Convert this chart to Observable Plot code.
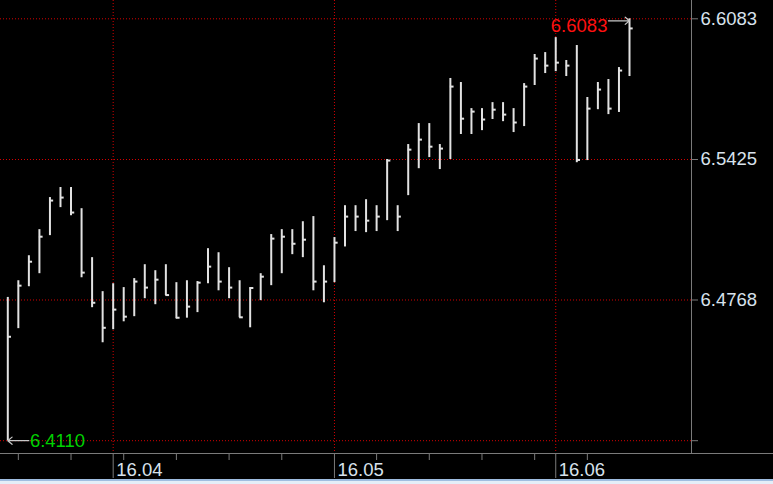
<!DOCTYPE html>
<html><head><meta charset="utf-8">
<script src="https://cdn.jsdelivr.net/npm/d3@7"></script>
<script src="https://cdn.jsdelivr.net/npm/@observablehq/plot@0.6"></script>
<style>
html,body{margin:0;padding:0;background:#000;overflow:hidden;}
#chart svg{display:block;}
#strip{height:3px;border-top:2px solid #9fbde0;background:#e4eef8;}
</style></head><body><div id="chart"></div><div id="strip"></div>
<script>
// Daily OHLC bars (open not drawn)
const highs = [6.4780, 6.4858, 6.4975, 6.5097, 6.5247, 6.5294, 6.5294, 6.5195, 6.4966, 6.4807,
  6.4844, 6.4826, 6.4868, 6.4933, 6.4905, 6.4933, 6.4849, 6.4858, 6.4854, 6.5008,
  6.4989, 6.4919, 6.4858, 6.4826, 6.4891, 6.5074, 6.5097, 6.5097, 6.5134, 6.5158,
  6.4928, 6.5060, 6.5209, 6.5209, 6.5237, 6.5209, 6.5425, 6.5209, 6.5495, 6.5593,
  6.5593, 6.5495, 6.5804, 6.5785, 6.5663, 6.5663, 6.5691, 6.5691, 6.5663, 6.5780,
  6.5916, 6.5925, 6.5995, 6.5888, 6.5958, 6.5715, 6.5785, 6.5799, 6.5855, 6.6083];
const lows = [6.4110, 6.4634, 6.4830, 6.4891, 6.5069, 6.5200, 6.5162, 6.4872, 6.4732, 6.4568,
  6.4629, 6.4666, 6.4690, 6.4774, 6.4746, 6.4788, 6.4680, 6.4683, 6.4709, 6.4844,
  6.4811, 6.4774, 6.4685, 6.4638, 6.4765, 6.4835, 6.4891, 6.4980, 6.4966, 6.4811,
  6.4755, 6.4849, 6.5016, 6.5088, 6.5083, 6.5088, 6.5139, 6.5088, 6.5256, 6.5382,
  6.5434, 6.5378, 6.5425, 6.5542, 6.5542, 6.5560, 6.5612, 6.5602, 6.5551, 6.5579,
  6.5771, 6.5827, 6.5836, 6.5813, 6.5410, 6.5420, 6.5658, 6.5635, 6.5645, 6.5813];
const closes = [6.4596, 6.4835, 6.4947, 6.5064, 6.5233, 6.5247, 6.5177, 6.4896, 6.4755, 6.4638,
  6.4723, 6.4690, 6.4854, 6.4826, 6.4863, 6.4791, 6.4685, 6.4737, 6.4849, 6.4924,
  6.4854, 6.4826, 6.4687, 6.4824, 6.4877, 6.5055, 6.5064, 6.5031, 6.5050, 6.4854,
  6.4854, 6.5036, 6.5158, 6.5158, 6.5139, 6.5158, 6.5420, 6.5158, 6.5471, 6.5518,
  6.5485, 6.5476, 6.5766, 6.5616, 6.5649, 6.5612, 6.5658, 6.5635, 6.5598, 6.5766,
  6.5897, 6.5864, 6.5878, 6.5864, 6.5423, 6.5663, 6.5752, 6.5663, 6.5841, 6.6038];

// Axis ticks
const yTicks = [6.4110, 6.4768, 6.5425, 6.6083];
const yTickLabels = ["", "6.4768", "6.5425", "6.6083"];
const monthBars = [11, 32, 53];          // bar index of first trading day of month
const monthLabels = ["16.04", "16.05", "16.06"];
const weekBars = [2, 7, 12, 17, 22, 27, 36, 41, 46, 51, 56];

const data = highs.map((h, k) => ({i: k + 1, high: h, low: lows[k], close: closes[k]}));

const W = 773, H = 479, mR = 82, mB = 26;
const xDomain = [0.307, 65.884];
const yDomain = [6.40501, 6.61686];
const xFullRight = xDomain[0] + (xDomain[1] - xDomain[0]) * W / (W - mR);
const maxBar = data[d3.maxIndex(data, d => d.high)];
const minBar = data[d3.minIndex(data, d => d.low)];
const labelByValue = new Map(yTicks.map((v, k) => [v, yTickLabels[k]]));

const axisColor = "#7a7a7a";
const textColor = "#d8e2ec";
const gridColor = "#d40000";
const barColor = "#e2e2e2";
const font = "'Liberation Sans', Arial, sans-serif";

const chart = Plot.plot({
  width: W, height: H,
  marginLeft: 0, marginTop: 0, marginRight: mR, marginBottom: mB,
  style: {background: "#000", color: textColor, fontFamily: font, fontSize: "18px"},
  x: {type: "linear", domain: xDomain},
  y: {domain: yDomain},
  marks: [
    Plot.gridY(yTicks, {stroke: gridColor, strokeOpacity: 1, strokeDasharray: "1,2"}),
    Plot.gridX(monthBars, {stroke: gridColor, strokeOpacity: 1, strokeDasharray: "1,2"}),
    Plot.ruleX([xDomain[1]], {stroke: axisColor}),
    Plot.ruleY([yDomain[0]], {x1: xDomain[0], x2: xFullRight, stroke: axisColor}),
    Plot.axisY(yTicks, {anchor: "right", tickSize: 6, tickPadding: 3, stroke: axisColor, fill: textColor,
      fontSize: 18.5, tickFormat: d => labelByValue.get(d), label: null}),
    Plot.axisX(weekBars, {tickSize: 7, stroke: axisColor, fill: "none", label: null, tickFormat: () => ""}),
    Plot.axisX(monthBars, {tickSize: 25, stroke: axisColor, fill: "none", label: null, tickFormat: () => ""}),
    Plot.axisX(monthBars, {tickSize: 0, tickPadding: 9, textAnchor: "start", dx: 3, fill: textColor, fontSize: 18.5,
      tickFormat: d => monthLabels[monthBars.indexOf(d)], label: null}),
    Plot.ruleX(data, {x: "i", y1: "low", y2: "high", stroke: barColor, strokeWidth: 2}),
    Plot.ruleY(data, {y: "close", x1: "i", x2: d => d.i + 0.35, stroke: barColor, strokeWidth: 2}),
    Plot.arrow([minBar], {x1: d => d.i + 2, x2: "i", y1: "low", y2: "low", stroke: "#c8c8c8", strokeWidth: 1.2,
      headLength: 7, headAngle: 80}),
    Plot.text([minBar], {x: d => d.i + 2, y: "low", text: d => d.low.toFixed(4), textAnchor: "start",
      fill: "#00d000", fontSize: 18.5, dx: 1}),
    Plot.arrow([maxBar], {x1: d => d.i - 2, x2: "i", y1: "high", y2: "high", dy: 2, stroke: "#c8c8c8", strokeWidth: 1.2,
      headLength: 7, headAngle: 80}),
    Plot.text([maxBar], {x: d => d.i - 2, y: "high", text: d => d.high.toFixed(4), textAnchor: "end",
      fill: "#ff1010", fontSize: 18.5, dy: 7, dx: -1})
  ]
});
document.getElementById("chart").append(chart);
</script></body></html>
